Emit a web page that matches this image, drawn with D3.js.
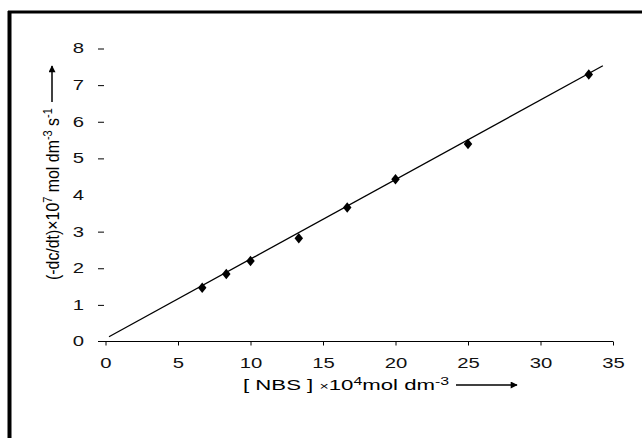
<!DOCTYPE html>
<meta charset="utf-8">
<style>
	body { margin: 0; background: #fff; }
	svg { display: block; font-family: "Liberation Sans", Arial, sans-serif; }
	.tick text { font-size: 14px; fill: #111; }
	.tick line { stroke: #000; }
</style>
<script src="https://cdn.jsdelivr.net/npm/d3@7"></script>
<body>
<div id="chart"></div>
<script>
	// [NBS] x10^4 and rate x10^7
	let nbs = [6.67, 8.33, 10, 13.33, 16.67, 20, 25, 33.33];
	let rate = [1.47, 1.84, 2.2, 2.82, 3.66, 4.43, 5.39, 7.29];
	// fitted straight line end points
	let fitX = [0.24, 34.3];
	let fitY = [0.13, 7.53];
	let xTicks = [0, 5, 10, 15, 20, 25, 30, 35];
	let yTicks = [0, 1, 2, 3, 4, 5, 6, 7, 8];

	let width = 642, height = 438;
	let stretch = 1.45; // the scanned figure is wider than tall

	let svg = d3.select("#chart").append("svg")
		.attr("width", width)
		.attr("height", height);

	// frame: thick left and top border only
	svg.append("line").attr("x1", 9.5).attr("x2", 9.5).attr("y1", 11).attr("y2", height)
		.attr("stroke", "#000").attr("stroke-width", 4);
	svg.append("line").attr("x1", 8).attr("x2", width).attr("y1", 12).attr("y2", 12)
		.attr("stroke", "#000").attr("stroke-width", 3);

	let x = d3.scaleLinear().domain([0, 35]).range([105.5, 613]);
	let y = d3.scaleLinear().domain([0, 8]).range([341.5, 48.5]);

	let xAxis = svg.append("g")
		.attr("transform", "translate(0," + y(0) + ")")
		.call(d3.axisBottom(x).tickValues(xTicks).tickSize(4).tickPadding(13).tickSizeOuter(0));
	xAxis.select(".domain").remove();
	xAxis.selectAll(".tick text").attr("transform", "scale(" + stretch + ",1)");
	svg.append("line")
		.attr("x1", 98).attr("x2", x(35))
		.attr("y1", y(0)).attr("y2", y(0))
		.attr("stroke", "#000").attr("stroke-width", 1.2);

	let yAxis = svg.append("g")
		.attr("transform", "translate(104,0)")
		.call(d3.axisLeft(y).tickValues(yTicks).tickSize(6).tickPadding(14));
	yAxis.select(".domain").remove();
	yAxis.selectAll(".tick text")
		.attr("x", -20 / stretch)
		.attr("transform", "scale(" + stretch + ",1)");
	yAxis.selectAll(".tick").filter(d => d === 0 || d === 4).select("line").remove();

	// fitted line
	let line = d3.line().x(d => x(d[0])).y(d => y(d[1]));
	svg.append("path")
		.datum(d3.zip(fitX, fitY))
		.attr("d", line)
		.attr("fill", "none")
		.attr("stroke", "#000")
		.attr("stroke-width", 1.3);

	// data points
	svg.append("g").selectAll("path")
		.data(d3.zip(nbs, rate))
		.join("path")
		.attr("transform", d => "translate(" + x(d[0]) + "," + y(d[1]) + ") scale(1.4,1)")
		.attr("d", d3.symbol(d3.symbolDiamond, 32))
		.attr("fill", "#000");

	// arrow head marker
	svg.append("defs").append("marker")
		.attr("id", "arrow")
		.attr("viewBox", "0 0 10 10")
		.attr("refX", 9).attr("refY", 5)
		.attr("markerWidth", 11).attr("markerHeight", 7)
		.attr("markerUnits", "userSpaceOnUse")
		.attr("orient", "auto")
		.append("path")
		.attr("d", "M0,0L10,5L0,10Z")
		.attr("fill", "#000");

	// x label
	let xl = svg.append("text")
		.attr("font-size", 14);
	xl.append("tspan").text("[ NBS ] ");
	xl.append("tspan").attr("font-size", 10).text("×");
	xl.append("tspan").text("10");
	xl.append("tspan").attr("font-size", 10).attr("dy", -5).text("4");
	xl.append("tspan").attr("dy", 5).text("mol dm");
	xl.append("tspan").attr("font-size", 10).attr("dy", -5).text("-3");
	let xw = xl.node().getBBox().width;
	xl.attr("transform", "translate(243,390) scale(" + (207 / xw) + ",1)");
	svg.append("line")
		.attr("x1", 456).attr("x2", 517).attr("y1", 385).attr("y2", 385)
		.attr("stroke", "#000").attr("stroke-width", 1.5)
		.attr("marker-end", "url(#arrow)");

	// y label
	let yl = svg.append("text")
		.attr("font-size", 13);
	yl.append("tspan").text("(-dc/dt)×10");
	yl.append("tspan").attr("font-size", 9).attr("dy", -5).text("7");
	yl.append("tspan").attr("dy", 5).text(" mol dm");
	yl.append("tspan").attr("font-size", 9).attr("dy", -5).text("-3");
	yl.append("tspan").attr("dy", 5).text(" s");
	yl.append("tspan").attr("font-size", 9).attr("dy", -5).text("-1");
	let yw = yl.node().getBBox().width;
	yl.attr("transform", "translate(59,280) rotate(-90) scale(" + (172 / yw) + "," + stretch + ")");
	svg.append("line")
		.attr("x1", 52).attr("x2", 52).attr("y1", 102).attr("y2", 66)
		.attr("stroke", "#000").attr("stroke-width", 1.5)
		.attr("marker-end", "url(#arrow)");
</script>
</body>
